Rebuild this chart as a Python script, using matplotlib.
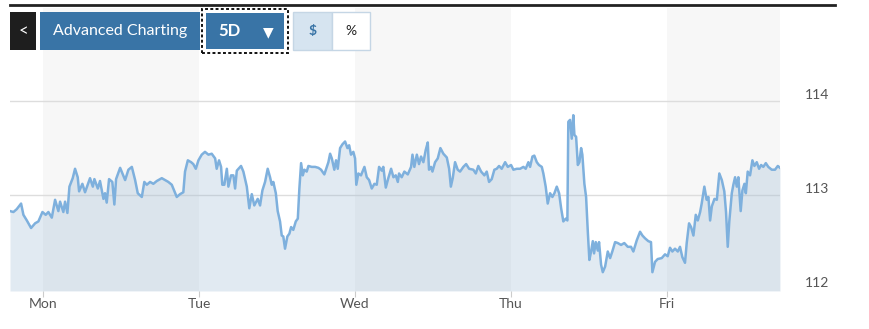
import numpy as np
import matplotlib
matplotlib.use("Agg")
import matplotlib.pyplot as plt
from matplotlib.patches import Rectangle

plt.rcParams['font.family'] = ['Lato', 'DejaVu Sans']

# time in days since Monday open, price in USD
t = [-0.212, -0.190, -0.169, -0.141, -0.126, -0.104, -0.077, -0.051, -0.030, -0.004,
     0.017, 0.034, 0.056, 0.077, 0.098, 0.109, 0.130, 0.141, 0.156, 0.169,
     0.190, 0.205, 0.222, 0.231, 0.252, 0.269, 0.301, 0.319, 0.329, 0.351,
     0.365, 0.387, 0.397, 0.408, 0.423, 0.444, 0.457, 0.468, 0.494, 0.526,
     0.547, 0.569, 0.590, 0.607, 0.633, 0.649, 0.665, 0.686, 0.707, 0.729,
     0.761, 0.782, 0.803, 0.825, 0.842, 0.857, 0.878, 0.899, 0.910, 0.928,
     0.949, 0.963, 0.979, 0.996, 1.017, 1.038, 1.060, 1.081, 1.103, 1.113,
     1.128, 1.141, 1.149, 1.162, 1.178, 1.188, 1.205, 1.220, 1.231, 1.242,
     1.269, 1.284, 1.306, 1.322, 1.338, 1.354, 1.376, 1.391, 1.406, 1.423,
     1.440, 1.455, 1.466, 1.476, 1.492, 1.504, 1.519, 1.530, 1.540, 1.551,
     1.566, 1.579, 1.590, 1.604, 1.620, 1.633, 1.643, 1.654, 1.665, 1.675,
     1.690, 1.701, 1.722, 1.744, 1.765, 1.782, 1.803, 1.819, 1.829, 1.840,
     1.851, 1.867, 1.878, 1.889, 1.904, 1.919, 1.936, 1.951, 1.962, 1.974,
     1.989, 2.000, 2.008, 2.021, 2.038, 2.060, 2.075, 2.090, 2.107, 2.124,
     2.139, 2.154, 2.171, 2.181, 2.197, 2.213, 2.231, 2.246, 2.261, 2.274,
     2.282, 2.299, 2.316, 2.338, 2.359, 2.368, 2.380, 2.396, 2.410, 2.423,
     2.438, 2.453, 2.466, 2.474, 2.487, 2.496, 2.513, 2.530, 2.547, 2.566,
     2.588, 2.603, 2.614, 2.626, 2.641, 2.658, 2.673, 2.694, 2.712, 2.731,
     2.758, 2.774, 2.790, 2.808, 2.829, 2.844, 2.859, 2.876, 2.893, 2.908,
     2.923, 2.940, 2.962, 2.979, 3.000, 3.015, 3.037, 3.058, 3.079, 3.094,
     3.111, 3.122, 3.137, 3.149, 3.165, 3.179, 3.197, 3.207, 3.222, 3.235,
     3.250, 3.265, 3.278, 3.293, 3.308, 3.321, 3.335, 3.351, 3.361, 3.367,
     3.378, 3.389, 3.399, 3.406, 3.417, 3.428, 3.438, 3.449, 3.457, 3.470,
     3.481, 3.492, 3.502, 3.513, 3.524, 3.532, 3.543, 3.556, 3.564, 3.577,
     3.588, 3.603, 3.620, 3.635, 3.649, 3.667, 3.684, 3.705, 3.726, 3.748,
     3.769, 3.784, 3.806, 3.827, 3.842, 3.859, 3.880, 3.897, 3.906, 3.923,
     3.940, 3.966, 3.987, 4.004, 4.019, 4.034, 4.051, 4.069, 4.083, 4.098,
     4.115, 4.126, 4.141, 4.154, 4.169, 4.184, 4.197, 4.212, 4.222, 4.239,
     4.254, 4.265, 4.276, 4.287, 4.304, 4.319, 4.335, 4.351, 4.367, 4.378,
     4.389, 4.399, 4.415, 4.425, 4.436, 4.447, 4.457, 4.472, 4.483, 4.496,
     4.505, 4.517, 4.532, 4.547, 4.560, 4.575, 4.590, 4.603, 4.617, 4.633,
     4.649, 4.671, 4.692, 4.710, 4.724]
price = [112.83, 112.82, 112.85, 112.91, 112.79, 112.73, 112.65, 112.70, 112.72, 112.82,
         112.79, 112.82, 112.76, 112.95, 112.83, 112.93, 112.82, 112.93, 112.81, 113.09,
         113.18, 113.28, 113.19, 113.04, 113.12, 113.03, 113.18, 113.09, 113.17, 113.07,
         113.15, 112.96, 113.02, 112.92, 113.17, 113.14, 112.90, 113.17, 113.29, 113.16,
         113.27, 113.30, 113.16, 113.02, 112.98, 113.14, 113.11, 113.14, 113.12, 113.15,
         113.18, 113.16, 113.14, 113.11, 113.04, 112.98, 113.01, 113.03, 113.25, 113.37,
         113.35, 113.33, 113.28, 113.37, 113.43, 113.46, 113.43, 113.44, 113.39, 113.28,
         113.37, 113.30, 113.11, 113.11, 113.28, 113.09, 113.21, 113.21, 113.07, 113.26,
         113.31, 113.25, 113.09, 112.86, 113.01, 112.89, 112.96, 112.89, 113.05, 113.14,
         113.28, 113.19, 113.11, 113.14, 113.02, 112.83, 112.72, 112.57, 112.56, 112.43,
         112.56, 112.59, 112.66, 112.63, 112.72, 112.75, 113.07, 113.34, 113.21, 113.27,
         113.25, 113.31, 113.30, 113.30, 113.29, 113.27, 113.22, 113.30, 113.35, 113.44,
         113.39, 113.27, 113.37, 113.28, 113.50, 113.54, 113.57, 113.50, 113.53, 113.43,
         113.46, 113.39, 113.11, 113.23, 113.21, 113.30, 113.19, 113.16, 113.07, 113.12,
         113.11, 113.30, 113.26, 113.30, 113.08, 113.18, 113.28, 113.19, 113.21, 113.14,
         113.23, 113.19, 113.25, 113.22, 113.30, 113.43, 113.30, 113.43, 113.33, 113.41,
         113.35, 113.48, 113.56, 113.27, 113.30, 113.25, 113.35, 113.39, 113.50, 113.44,
         113.40, 113.28, 113.09, 113.18, 113.35, 113.27, 113.25, 113.30, 113.33, 113.28,
         113.27, 113.23, 113.31, 113.25, 113.21, 113.25, 113.14, 113.17, 113.27, 113.28,
         113.31, 113.28, 113.35, 113.30, 113.32, 113.27, 113.28, 113.28, 113.30, 113.28,
         113.35, 113.30, 113.41, 113.42, 113.35, 113.32, 113.30, 113.23, 113.09, 112.91,
         113.02, 112.98, 113.02, 113.09, 113.02, 112.86, 112.72, 112.75, 112.73, 113.78,
         113.80, 113.60, 113.85, 113.64, 113.62, 113.32, 113.35, 113.50, 113.43, 113.12,
         112.98, 112.61, 112.31, 112.40, 112.51, 112.38, 112.50, 112.41, 112.50, 112.26,
         112.18, 112.24, 112.40, 112.33, 112.40, 112.50, 112.49, 112.47, 112.49, 112.45,
         112.45, 112.40, 112.52, 112.61, 112.57, 112.54, 112.51, 112.50, 112.18, 112.29,
         112.32, 112.33, 112.37, 112.35, 112.44, 112.40, 112.43, 112.40, 112.45, 112.34,
         112.28, 112.49, 112.70, 112.66, 112.57, 112.79, 112.73, 112.82, 112.91, 113.09,
         112.95, 112.98, 112.73, 112.88, 112.96, 112.95, 113.23, 113.16, 113.04, 112.82,
         112.45, 112.72, 113.02, 113.11, 113.19, 113.09, 113.19, 112.83, 113.05, 113.12,
         113.02, 113.25, 113.21, 113.37, 113.31, 113.35, 113.28, 113.32, 113.30, 113.34,
         113.30, 113.27, 113.27, 113.31, 113.29]

day_pos = [0, 1, 2, 3, 4]
day_labels = ['Mon', 'Tue', 'Wed', 'Thu', 'Fri']
y_ticks = [112, 113, 114]

W, H = 870, 329
fig = plt.figure(figsize=(W / 100, H / 100), dpi=100)
ax = fig.add_axes([10 / W, 1 - 291 / H, 770 / W, 283 / H])

x0, x1 = t[0], t[-1]
ax.set_xlim(x0, x1)
ax.set_ylim(111.98, 114.99)

# alternating day bands
for a, b in [(0, 1), (2, 3), (4, x1)]:
    ax.axvspan(a, b, color='#f7f7f7', lw=0, zorder=0)

ax.fill_between(t, price, 111.98, color='#8bafcf', alpha=0.25, lw=0, zorder=2)
ax.plot(t, price, color='#7eb0dd', lw=1.8, zorder=3)

for s in ax.spines.values():
    s.set_visible(False)
ax.set_xticks(day_pos)
ax.set_xticklabels(day_labels)
ax.tick_params(axis='x', length=4, color='#cccccc', labelcolor='#555555', labelsize=10, pad=1)
ax.yaxis.tick_right()
ax.set_yticks(y_ticks)
ax.tick_params(axis='y', length=0, labelcolor='#555555', labelsize=10, pad=18)
for lab in ax.get_yticklabels():
    lab.set_verticalalignment('bottom')
ax.grid(axis='y', color='#dddddd', lw=1)
ax.get_ygridlines()[0].set_visible(False)
ax.set_axisbelow(True)
ax.patch.set_alpha(0)


def box(x, y, w, h, **kw):
    # rectangle given in top-left pixel coordinates
    r = Rectangle((x / W, 1 - (y + h) / H), w / W, h / H, transform=fig.transFigure, **kw)
    fig.add_artist(r)


def label(x, y, s, **kw):
    fig.text(x / W, 1 - y / H, s, ha='center', va='center', **kw)


# top rule
fig.add_artist(plt.Line2D([10 / W, 835 / W], [1 - 5 / H, 1 - 5 / H], color='#222222', lw=2,
                          transform=fig.transFigure))

blue = '#3974a6'
box(10, 12, 26, 38, facecolor='#1e1e1e', lw=0)
label(23, 31, '<', color='white', fontsize=12)
box(40, 12, 160, 38, facecolor=blue, lw=0)
label(120, 31, 'Advanced Charting', color='white', fontsize=11.5)
box(202, 9, 86, 44, facecolor='white', edgecolor='#111111', lw=1.4, linestyle=(0, (1.5, 1.2)))
box(206, 13, 78, 36, facecolor=blue, lw=0)
label(229, 31, '5D', color='white', fontsize=12, fontweight='bold')
label(268, 32, '▼', color='white', fontsize=10, family=['DejaVu Sans'])
box(293, 12, 39, 38, facecolor='#d6e4f0', edgecolor='#c5d6e5', lw=1)
box(332, 12, 38, 38, facecolor='white', edgecolor='#c5d6e5', lw=1)
label(312.5, 31, '$', color='#3974a6', fontsize=10, fontweight='bold')
label(351, 31, '%', color='#222222', fontsize=10)

fig.savefig('out.png', dpi=100)
